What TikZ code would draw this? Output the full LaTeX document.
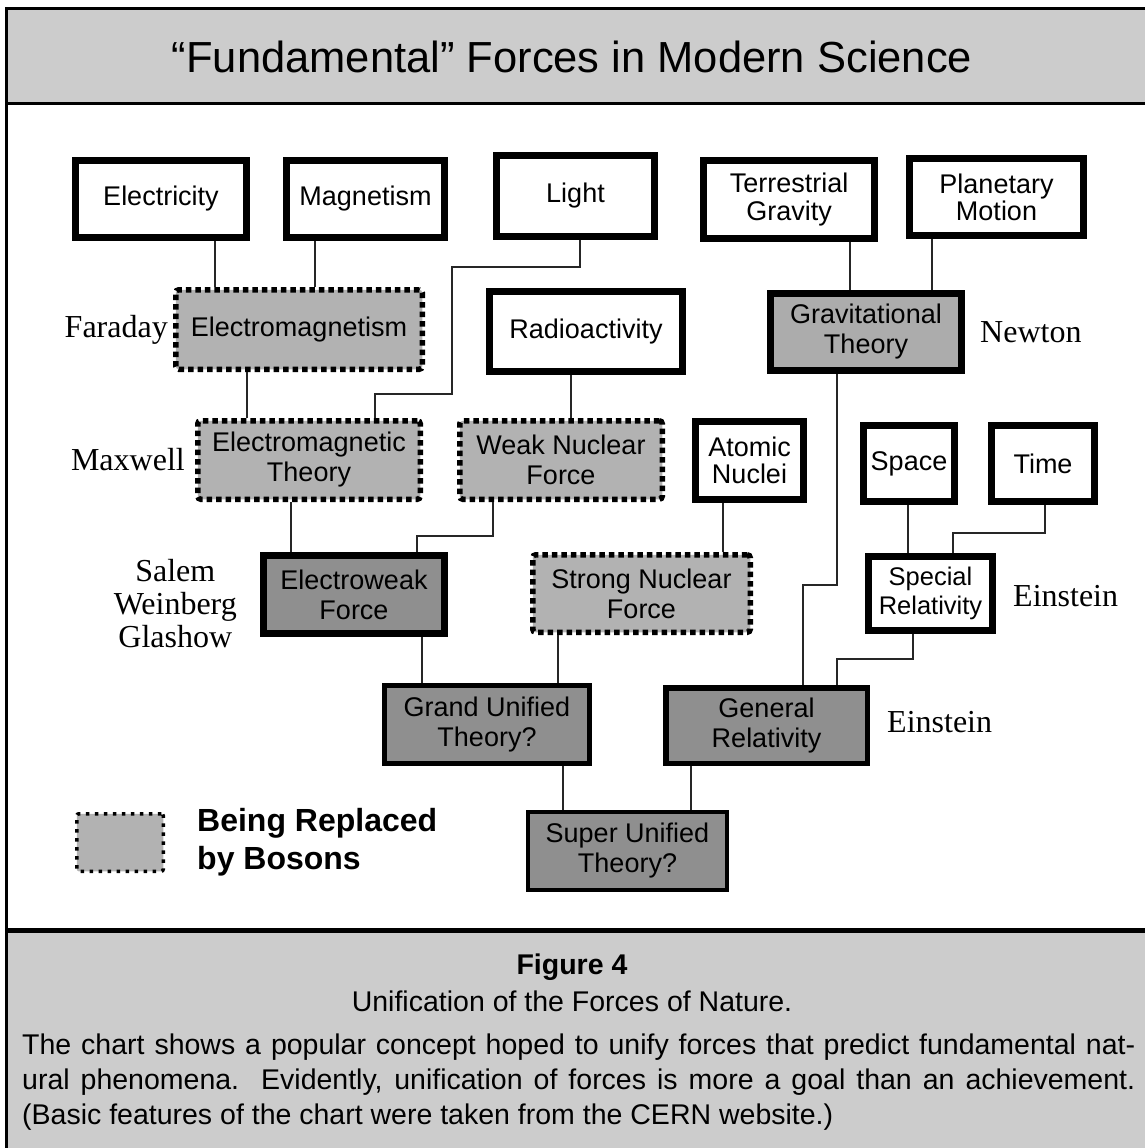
\documentclass[tikz,border=0pt]{standalone}
\usepackage{fontspec}
\setmainfont{Liberation Serif}
\setsansfont{Liberation Sans}
\usetikzlibrary{positioning}
\definecolor{bandgray}{RGB}{204,204,204}
\definecolor{bosongray}{RGB}{178,178,178}
\definecolor{gravgray}{RGB}{172,172,172}
\definecolor{unigray}{RGB}{143,143,143}
\newcommand\chartfont{\sffamily\fontsize{27}{30}\selectfont}
\newcommand\whofont{\rmfamily\fontsize{32}{33}\selectfont}
\newcommand\capfont{\sffamily\fontsize{28.5}{35}\selectfont}
\begin{document}
\begin{tikzpicture}[x=1pt,y=-1pt,line join=miter,
	plainbox/.style={draw,line width=7pt,fill=white,inner sep=0pt,align=center,font=\chartfont},
	gravbox/.style={plainbox,fill=gravgray},
	unibox/.style={plainbox,fill=unigray},
	bosonbox/.style={plainbox,fill=bosongray,line width=5.5pt,dash pattern=on 5.5pt off 4pt,rounded corners=3pt},
	who/.style={inner sep=0pt,font=\whofont,align=center},
	wire/.style={line width=1.4pt,black!85}]
	\useasboundingbox (0,0) rectangle (1145,1148);
	\clip (0,0) rectangle (1145,1148);
	% frame, title band and caption band
	\fill[bandgray] (6,9) rectangle (1150,103);
	\fill[bandgray] (6,930) rectangle (1150,1155);
	\draw[line width=3pt] (1150,9)--(6,9)--(6,1155);
	\draw[line width=3pt] (6,103)--(1150,103);
	\draw[line width=5pt] (6,930)--(1150,930);
	\node[font=\sffamily\fontsize{43.5}{48}\selectfont] (title) at (572,57) {“Fundamental” Forces in Modern Science};
	% top row
	\node[plainbox,minimum width=171pt,minimum height=77pt] (elec) at (161,199) {Electricity};
	\node[plainbox,minimum width=158pt,minimum height=77pt] (magn) at (365.5,199) {Magnetism};
	\node[plainbox,minimum width=158pt,minimum height=81pt] (light) at (575.5,196) {Light};
	\node[plainbox,minimum width=171pt,minimum height=78pt,font=\sffamily\fontsize{27}{28}\selectfont] (terr) at (789,199.5) {Terrestrial\\Gravity};
	\node[plainbox,minimum width=174pt,minimum height=77pt,font=\sffamily\fontsize{27}{27}\selectfont] (plan) at (996.5,197) {Planetary\\Motion};
	% second row
	\node[bosonbox,minimum width=246.5pt,minimum height=79.5pt] (emag) at (299,329.5) {Electromagnetism};
	\node[plainbox,minimum width=193pt,minimum height=80pt] (radio) at (586,331.5) {Radioactivity};
	\node[gravbox,minimum width=191pt,minimum height=77pt] (grav) at (866,332) {Gravitational\\Theory};
	% third row
	\node[bosonbox,minimum width=222.5pt,minimum height=78.5pt] (emth) at (309,460) {Electromagnetic\\Theory};
	\node[bosonbox,minimum width=202.5pt,minimum height=78.5pt] (weak) at (561,460) {Weak Nuclear\\Force};
	\node[plainbox,minimum width=108pt,minimum height=78pt,font=\sffamily\fontsize{27}{26.5}\selectfont] (atom) at (749.5,460.5) {Atomic\\Nuclei};
	\node[plainbox,minimum width=91pt,minimum height=76pt] (space) at (909,463.5) {Space};
	\node[plainbox,minimum width=103pt,minimum height=76pt] (time) at (1043,463.5) {Time};
	% fourth row
	\node[unibox,minimum width=181pt,minimum height=78pt] (ewk) at (354,594.5) {Electroweak\\Force};
	\node[bosonbox,minimum width=217.5pt,minimum height=77.5pt] (strong) at (641.5,593.5) {Strong Nuclear\\Force};
	\node[plainbox,minimum width=124pt,minimum height=74pt,font=\sffamily\fontsize{25.5}{29}\selectfont] (srel) at (930.5,593.5) {Special\\Relativity};
	% unified theories
	\node[unibox,line width=5pt,minimum width=205pt,minimum height=78pt] (guth) at (487,724.5) {Grand Unified\\Theory?};
	\node[unibox,line width=5.5pt,minimum width=201.5pt,minimum height=75.5pt] (grel) at (766.5,725.5) {General\\Relativity};
	\node[unibox,line width=4pt,minimum width=199pt,minimum height=78pt] (suth) at (627.5,851) {Super Unified\\Theory?};
	% names
	\node[who,left=5pt of emag] (faraday) {Faraday};
	\node[who,left=10pt of emth] (maxwell) {Maxwell};
	\node[who,right=15pt of grav] (newton) {Newton};
	\node[who,left=23pt of ewk,yshift=-9pt] (sawegl) {Salem\\Weinberg\\Glashow};
	\node[who,right=17pt of srel,yshift=-3pt] (einsr) {Einstein};
	\node[who,right=17pt of grel,yshift=3pt] (einsg) {Einstein};
	% connectors
	\draw[wire] (215,0 |- elec.south)--(215,0 |- emag.north);
	\draw[wire] (315,0 |- magn.south)--(315,0 |- emag.north);
	\draw[wire] (247,0 |- emag.south)--(247,0 |- emth.north);
	\draw[wire] (580,0 |- light.south) |- (452,267) |- (375,394)--(375,0 |- emth.north);
	\draw[wire] (291,0 |- emth.south)--(291,0 |- ewk.north);
	\draw[wire] (571,0 |- radio.south)--(571,0 |- weak.north);
	\draw[wire] (493,0 |- weak.south) |- (417,536)--(417,0 |- ewk.north);
	\draw[wire] (723,0 |- atom.south)--(723,0 |- strong.north);
	\draw[wire] (422,0 |- ewk.south)--(422,0 |- guth.north);
	\draw[wire] (558,0 |- strong.south)--(558,0 |- guth.north);
	\draw[wire] (850,0 |- terr.south)--(850,0 |- grav.north);
	\draw[wire] (932,0 |- plan.south)--(932,0 |- grav.north);
	\draw[wire] (837,0 |- grav.south) |- (803,585)--(803,0 |- grel.north);
	\draw[wire] (908,0 |- space.south)--(908,0 |- srel.north);
	\draw[wire] (1045,0 |- time.south) |- (953,533)--(953,0 |- srel.north);
	\draw[wire] (913,0 |- srel.south) |- (837,659)--(837,0 |- grel.north);
	\draw[wire] (563,0 |- guth.south)--(563,0 |- suth.north);
	\draw[wire] (691,0 |- grel.south)--(691,0 |- suth.north);
	% legend
	\node[bosonbox,line width=3.5pt,dash pattern=on 3.5pt off 5.5pt,rounded corners=2pt,minimum width=86.5pt,minimum height=57.5pt] (lgd) at (120,842.5) {};
	\node[right=32pt of lgd,inner sep=0pt,align=left,font=\sffamily\bfseries\fontsize{32}{38}\selectfont] (lgdtext) {Being Replaced\\by Bosons};
	% caption
	\node[font=\capfont\bfseries] (fig) at (572,967) {Figure 4};
	\node[font=\capfont] (figsub) at (572,1001) {Unification of the Forces of Nature.};
	\node[font=\capfont,anchor=west,inner sep=0pt,align=left] (figtext) at (22,1082) {\makebox[1113pt][s]{The chart shows a popular concept hoped to unify forces that predict fundamental nat-}\\
		\makebox[1113pt][s]{ural phenomena.~~Evidently, unification of forces is more a goal than an achievement.}\\
		(Basic features of the chart were taken from the CERN website.)};
\end{tikzpicture}
\end{document}
